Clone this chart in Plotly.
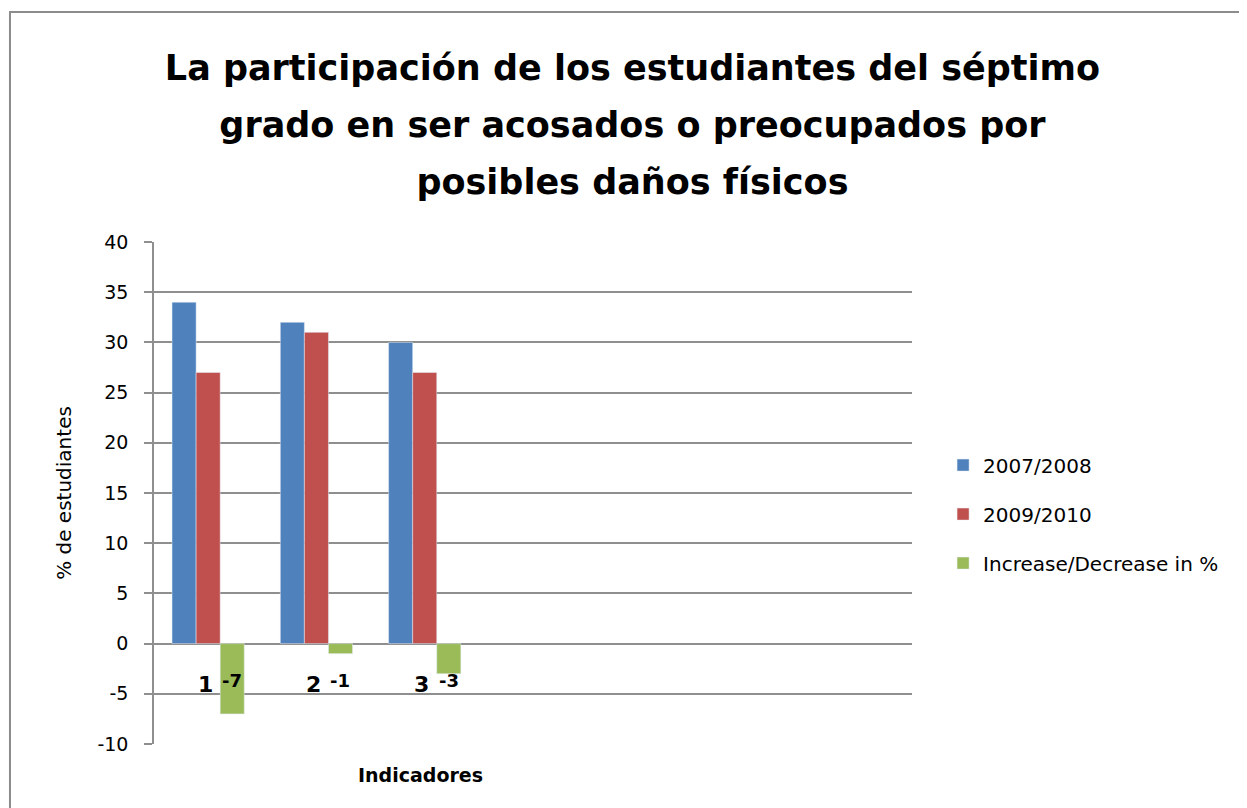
import plotly.graph_objects as go

indicadores = [1, 2, 3]
cat_labels = ["1", "2", "3"]
y_2007_2008 = [34, 32, 30]
y_2009_2010 = [27, 31, 27]
cambio = [-7, -1, -3]
y_ticks = [-10, -5, 0, 5, 10, 15, 20, 25, 30, 35, 40]
y_tick_text = ["-10", "-5", "0", "5", "10", "15", "20", "25", "30", "35", "40"]
title_lines = ["La participación de los estudiantes del séptimo",
               "grado en ser acosados o preocupados por",
               "posibles daños físicos"]

FONT = "DejaVu Sans, sans-serif"
BLUE = "#4F81BD"
RED = "#C0504D"
GREEN = "#9BBB59"
GRID = "#8f8f8f"

fig = go.Figure()
fig.add_trace(go.Bar(name="2007/2008", x=indicadores, y=y_2007_2008,
                     marker=dict(color=BLUE), legendgroup="a"))
fig.add_trace(go.Bar(name="2009/2010", x=indicadores, y=y_2009_2010,
                     marker=dict(color=RED), legendgroup="b"))
fig.add_trace(go.Bar(name="Increase/Decrease in %", x=indicadores, y=cambio,
                     marker=dict(color=GREEN), legendgroup="c"))

# category labels sit just under the zero line, as in the original
for x, lab in zip(indicadores, cat_labels):
    fig.add_annotation(x=x, y=0, text="<b>%s</b>" % lab, showarrow=False, xshift=-3, yshift=-41,
                       font=dict(family=FONT, size=22, color="black"))
# data labels of the green series
for x, v in zip(indicadores, cambio):
    fig.add_annotation(x=x, y=0, text="<b>%d</b>" % v, showarrow=False, xshift=24, yshift=-37,
                       font=dict(family=FONT, size=18, color="black"))

fig.add_annotation(x=0.351, y=-0.088, xref="paper", yref="paper", text="<b>Indicadores</b>",
                   showarrow=False, font=dict(family=FONT, size=19, color="black"))

# chart border
fig.add_shape(type="rect", xref="paper", yref="paper", x0=-0.19, x1=1.45, y0=-0.14, y1=1.458,
              line=dict(color="#8c8c8c", width=2), fillcolor="rgba(0,0,0,0)")

# larger base size gives the wide line spacing, glyphs set smaller in spans
title_text = "<br>".join("<span style='font-size:35px'>%s</span>" % s for s in title_lines)

fig.update_layout(
    width=1239, height=800,
    margin=dict(l=146, r=335, t=234, b=64),
    paper_bgcolor="white", plot_bgcolor="white",
    barmode="group", bargap=0.333, bargroupgap=0,
    title=dict(text="<b>%s</b>" % title_text,
               x=0.504, xanchor="center", y=0.91, yanchor="middle",
               font=dict(family=FONT, size=44, color="black")),
    font=dict(family=FONT, color="black"),
    legend=dict(x=1.041, xanchor="left", y=0.458, yanchor="middle",
                traceorder="grouped", tracegroupgap=20,
                font=dict(family=FONT, size=20, color="black")),
    xaxis=dict(range=[0.5, 7.5], showticklabels=False, showgrid=False, zeroline=False,
               showline=False, ticks=""),
    yaxis=dict(range=[-10, 40], tickvals=y_ticks, ticktext=y_tick_text,
               showgrid=True, gridcolor=GRID, gridwidth=1.5,
               zeroline=True, zerolinecolor=GRID, zerolinewidth=1.5,
               showline=True, linecolor=GRID, linewidth=1.5,
               ticks="outside", ticklen=8, tickcolor=GRID, tickwidth=1.5,
               ticklabelstandoff=12,
               tickfont=dict(family=FONT, size=19, color="black"),
               title=dict(text="% de estudiantes", standoff=20,
                          font=dict(family=FONT, size=20, color="black"))),
)

fig.write_html("out.html")
